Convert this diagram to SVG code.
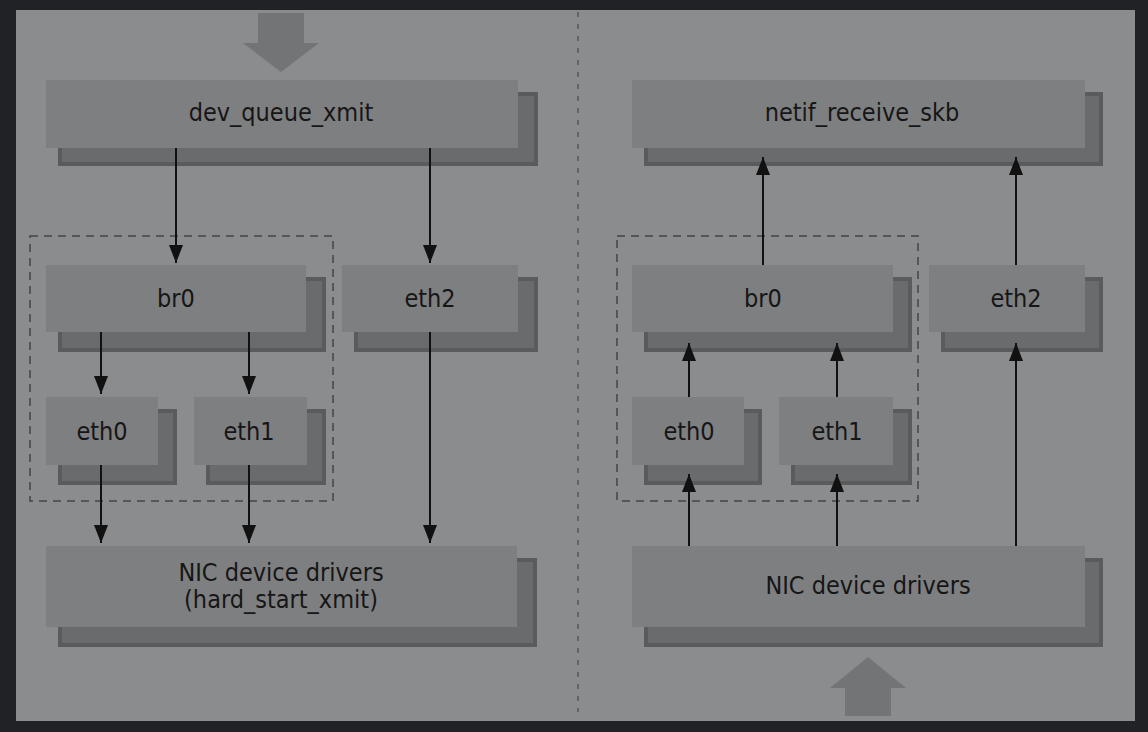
<svg xmlns="http://www.w3.org/2000/svg" width="1148" height="732" viewBox="0 0 1148 732">
<defs>
<marker id="ah" markerWidth="18" markerHeight="14" refX="18" refY="7" orient="auto" markerUnits="userSpaceOnUse" viewBox="0 0 18 14">
<path d="M0,0 L18,7 L0,14 Z" fill="#111"/>
</marker>
<style>
.shadow{fill:#6a6b6c;stroke:#5a5b5c;stroke-width:4}
.box{fill:#7e7f80}
.lbl{font-family:"DejaVu Sans Condensed","Liberation Sans",sans-serif;font-size:25px;fill:#161616;text-anchor:middle}
.conn line{stroke:#111;stroke-width:2}
.dash{fill:none;stroke:#444;stroke-width:1.5;stroke-dasharray:8 6}
.big{fill:#737475}
</style>
</defs>
<rect x="0" y="0" width="1148" height="732" fill="#212225"/>
<rect x="16" y="10" width="1119" height="711" fill="#8b8c8d"/>
<line x1="578" y1="12" x2="578" y2="712" stroke="#555" stroke-width="1.5" stroke-dasharray="5 7"/>
<rect class="dash" x="30" y="236" width="303" height="265"/>
<rect class="dash" x="617" y="236" width="301" height="265"/>
<path class="big" d="M258,13 H304 V43 H319 L281,72 L243,43 H258 Z"/>
<path class="big" d="M845,716 H891 V688 H906 L868,657 L830,688 H845 Z"/>
<g id="dev_queue_xmit"><rect class="shadow" x="60" y="94" width="476" height="70"/><rect class="box" x="46" y="80" width="472" height="68"/><text class="lbl" x="281" y="121">dev_queue_xmit</text></g>
<g id="br0_tx"><rect class="shadow" x="60" y="279" width="264" height="71"/><rect class="box" x="46" y="265" width="260" height="67"/><text class="lbl" x="176" y="307">br0</text></g>
<g id="eth2_tx"><rect class="shadow" x="356" y="279" width="180" height="71"/><rect class="box" x="342" y="265" width="176" height="67"/><text class="lbl" x="430" y="307">eth2</text></g>
<g id="eth0_tx"><rect class="shadow" x="60" y="411" width="115" height="72"/><rect class="box" x="46" y="397" width="112" height="68"/><text class="lbl" x="102" y="440">eth0</text></g>
<g id="eth1_tx"><rect class="shadow" x="208" y="411" width="116" height="72"/><rect class="box" x="194" y="397" width="113" height="68"/><text class="lbl" x="249" y="440">eth1</text></g>
<g id="nic_tx"><rect class="shadow" x="60" y="560" width="475" height="85"/><rect class="box" x="46" y="546" width="471" height="81"/><text class="lbl" x="281" y="581">NIC device drivers</text><text class="lbl" x="281" y="608">(hard_start_xmit)</text></g>
<g id="netif_receive_skb"><rect class="shadow" x="646" y="94" width="455" height="70"/><rect class="box" x="632" y="80" width="453" height="68"/><text class="lbl" x="862" y="121">netif_receive_skb</text></g>
<g id="br0_rx"><rect class="shadow" x="646" y="279" width="264" height="71"/><rect class="box" x="632" y="265" width="261" height="67"/><text class="lbl" x="763" y="307">br0</text></g>
<g id="eth2_rx"><rect class="shadow" x="943" y="279" width="158" height="71"/><rect class="box" x="929" y="265" width="156" height="67"/><text class="lbl" x="1016" y="307">eth2</text></g>
<g id="eth0_rx"><rect class="shadow" x="646" y="411" width="114" height="72"/><rect class="box" x="632" y="397" width="112" height="68"/><text class="lbl" x="689" y="440">eth0</text></g>
<g id="eth1_rx"><rect class="shadow" x="793" y="411" width="117" height="72"/><rect class="box" x="779" y="397" width="114" height="68"/><text class="lbl" x="837" y="440">eth1</text></g>
<g id="nic_rx"><rect class="shadow" x="646" y="560" width="455" height="85"/><rect class="box" x="632" y="546" width="453" height="81"/><text class="lbl" x="868" y="594">NIC device drivers</text></g>
<g class="conn">
<line x1="176" y1="148" x2="176" y2="263" marker-end="url(#ah)"/>
<line x1="430" y1="148" x2="430" y2="263" marker-end="url(#ah)"/>
<line x1="101" y1="332" x2="101" y2="394" marker-end="url(#ah)"/>
<line x1="249" y1="332" x2="249" y2="394" marker-end="url(#ah)"/>
<line x1="101" y1="465" x2="101" y2="543" marker-end="url(#ah)"/>
<line x1="249" y1="465" x2="249" y2="543" marker-end="url(#ah)"/>
<line x1="430" y1="332" x2="430" y2="543" marker-end="url(#ah)"/>
<line x1="689" y1="546" x2="689" y2="474" marker-end="url(#ah)"/>
<line x1="837" y1="546" x2="837" y2="474" marker-end="url(#ah)"/>
<line x1="689" y1="397" x2="689" y2="343" marker-end="url(#ah)"/>
<line x1="837" y1="397" x2="837" y2="343" marker-end="url(#ah)"/>
<line x1="763" y1="265" x2="763" y2="157" marker-end="url(#ah)"/>
<line x1="1016" y1="546" x2="1016" y2="343" marker-end="url(#ah)"/>
<line x1="1016" y1="265" x2="1016" y2="157" marker-end="url(#ah)"/>
</g>
</svg>
